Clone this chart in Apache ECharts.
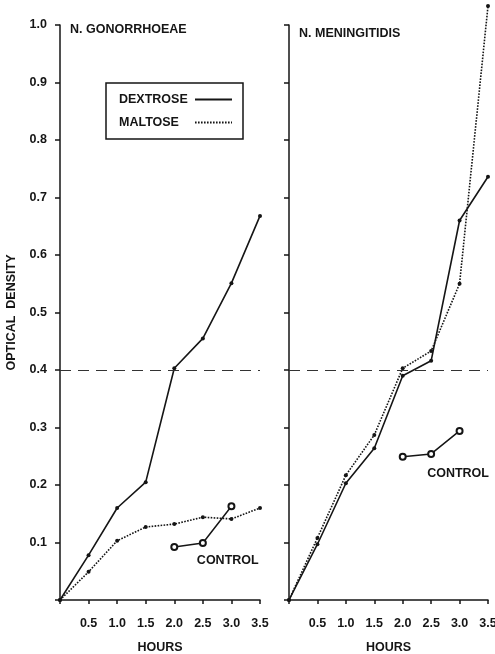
<!DOCTYPE html>
<html>
<head>
<meta charset="utf-8">
<script src="https://cdn.jsdelivr.net/npm/echarts@6/dist/echarts.min.js"></script>
<style>
  html, body { margin: 0; padding: 0; background: #fff; }
  #main { width: 495px; height: 654px; }
</style>
</head>
<body>
<div id="main"></div>
<script>
// sampling times (hours)
var hours = [0, 0.5, 1.0, 1.5, 2.0, 2.5, 3.0, 3.5];
var controlHours = [2.0, 2.5, 3.0];

// N. gonorrhoeae
var gonoDextrose = [0, 0.078, 0.160, 0.205, 0.403, 0.455, 0.551, 0.668];
var gonoMaltose = [0, 0.049, 0.103, 0.127, 0.132, 0.144, 0.141, 0.160];
var gonoControl = [0.092, 0.099, 0.163];

// N. meningitidis
var meninDextrose = [0, 0.097, 0.203, 0.264, 0.390, 0.416, 0.660, 0.736];
var meninMaltose = [0, 0.108, 0.217, 0.287, 0.403, 0.433, 0.550, 1.033];
var meninControl = [0.249, 0.254, 0.294];

var panelTitles = ['N. GONORRHOEAE', 'N. MENINGITIDIS'];
var cutoff = 0.4;

var ink = '#151515';
var font = 'Liberation Sans';

function pairs(xs, ys) {
  return ys.map(function (y, i) { return [xs[i], y]; });
}

function controlData(ys, labelPos) {
  var d = pairs(controlHours, ys);
  // "CONTROL" label sits under the middle point
  d[1] = {
    value: d[1],
    label: {
      show: true,
      formatter: 'CONTROL',
      position: labelPos,
      fontFamily: font,
      fontWeight: 'bold',
      fontSize: 12.5,
      color: ink
    }
  };
  return d;
}

var myChart = echarts.init(document.getElementById('main'));

var axisText = { fontFamily: font, fontWeight: 'bold', fontSize: 12.5, color: ink };

function xAxisFor(idx) {
  return {
    type: 'value',
    gridIndex: idx,
    min: 0,
    max: 3.5,
    interval: 0.5,
    name: 'HOURS',
    nameLocation: 'middle',
    nameGap: 41,
    nameTextStyle: axisText,
    axisLine: { lineStyle: { color: ink, width: 1.5 } },
    axisTick: { length: 4, lineStyle: { color: ink, width: 1.5 } },
    axisLabel: Object.assign({
      margin: 17,
      formatter: function (v) { return v === 0 ? '' : v.toFixed(1); }
    }, axisText),
    splitLine: { show: false }
  };
}

function yAxisFor(idx) {
  return {
    type: 'value',
    gridIndex: idx,
    min: 0,
    max: 1.0,
    interval: 0.1,
    name: idx === 0 ? 'OPTICAL  DENSITY' : '',
    nameLocation: 'middle',
    nameGap: 42,
    nameTextStyle: axisText,
    axisLine: { show: true, lineStyle: { color: ink, width: 1.5 } },
    axisTick: { show: true, length: 5, lineStyle: { color: ink, width: 1.5 } },
    axisLabel: Object.assign({
      show: idx === 0,
      margin: 13,
      formatter: function (v) { return v === 0 ? '' : v.toFixed(1); }
    }, axisText),
    splitLine: { show: false }
  };
}

function panelSeries(idx, dex, mal, ctrl, labelPos) {
  return [
    {
      name: 'DEXTROSE',
      type: 'line',
      xAxisIndex: idx,
      yAxisIndex: idx,
      data: pairs(hours, dex),
      clip: false,
      symbol: 'circle',
      symbolSize: 4,
      itemStyle: { color: ink },
      lineStyle: { color: ink, width: 1.6, type: 'solid' },
      markLine: {
        silent: true,
        symbol: 'none',
        label: { show: false },
        lineStyle: { color: '#333', width: 1, type: [11, 7] },
        data: [{ yAxis: cutoff }]
      },
      z: 3
    },
    {
      name: 'MALTOSE',
      type: 'line',
      xAxisIndex: idx,
      yAxisIndex: idx,
      data: pairs(hours, mal),
      clip: false,
      symbol: 'circle',
      symbolSize: 4,
      itemStyle: { color: ink },
      lineStyle: { color: ink, width: 1.6, type: [1.6, 1.4] },
      z: 3
    },
    {
      name: 'CONTROL',
      type: 'line',
      xAxisIndex: idx,
      yAxisIndex: idx,
      data: controlData(ctrl, labelPos),
      symbol: 'emptyCircle',
      symbolSize: 6,
      itemStyle: { color: ink, borderWidth: 1.5 },
      lineStyle: { color: ink, width: 1.5 },
      z: 3
    }
  ];
}

var titleText = { fontFamily: font, fontWeight: 'bold', fontSize: 12.5, color: ink };

var option = {
  backgroundColor: '#fff',
  animation: false,
  title: [
    { text: panelTitles[0], left: 70, top: 23, padding: 0, textStyle: titleText },
    { text: panelTitles[1], left: 299, top: 27, padding: 0, textStyle: titleText }
  ],
  legend: {
    data: ['DEXTROSE', 'MALTOSE'],
    orient: 'vertical',
    align: 'right',
    left: 106,
    top: 83,
    padding: [10, 10, 10, 13],
    itemWidth: 37,
    itemHeight: 10,
    itemGap: 10,
    borderColor: ink,
    borderWidth: 1.5,
    borderRadius: 0,
    itemStyle: { opacity: 0 },
    formatter: function (name) { return '{t|' + name + '}'; },
    textStyle: {
      fontFamily: font, fontWeight: 'bold', fontSize: 12.5, color: ink,
      rich: {
        t: { fontFamily: font, fontWeight: 'bold', fontSize: 12.5, color: ink, width: 71, align: 'left' }
      }
    }
  },
  grid: [
    { left: 60, right: 235, top: 25, bottom: 54, outerBoundsMode: 'none' },
    { left: 289, right: 7, top: 25, bottom: 54, outerBoundsMode: 'none' }
  ],
  xAxis: [xAxisFor(0), xAxisFor(1)],
  yAxis: [yAxisFor(0), yAxisFor(1)],
  series: panelSeries(0, gonoDextrose, gonoMaltose, gonoControl, [-2, 15])
    .concat(panelSeries(1, meninDextrose, meninMaltose, meninControl, [0, 17]))
};

myChart.setOption(option);

window.addEventListener('resize', function () {
  myChart.resize();
});
</script>
</body>
</html>
